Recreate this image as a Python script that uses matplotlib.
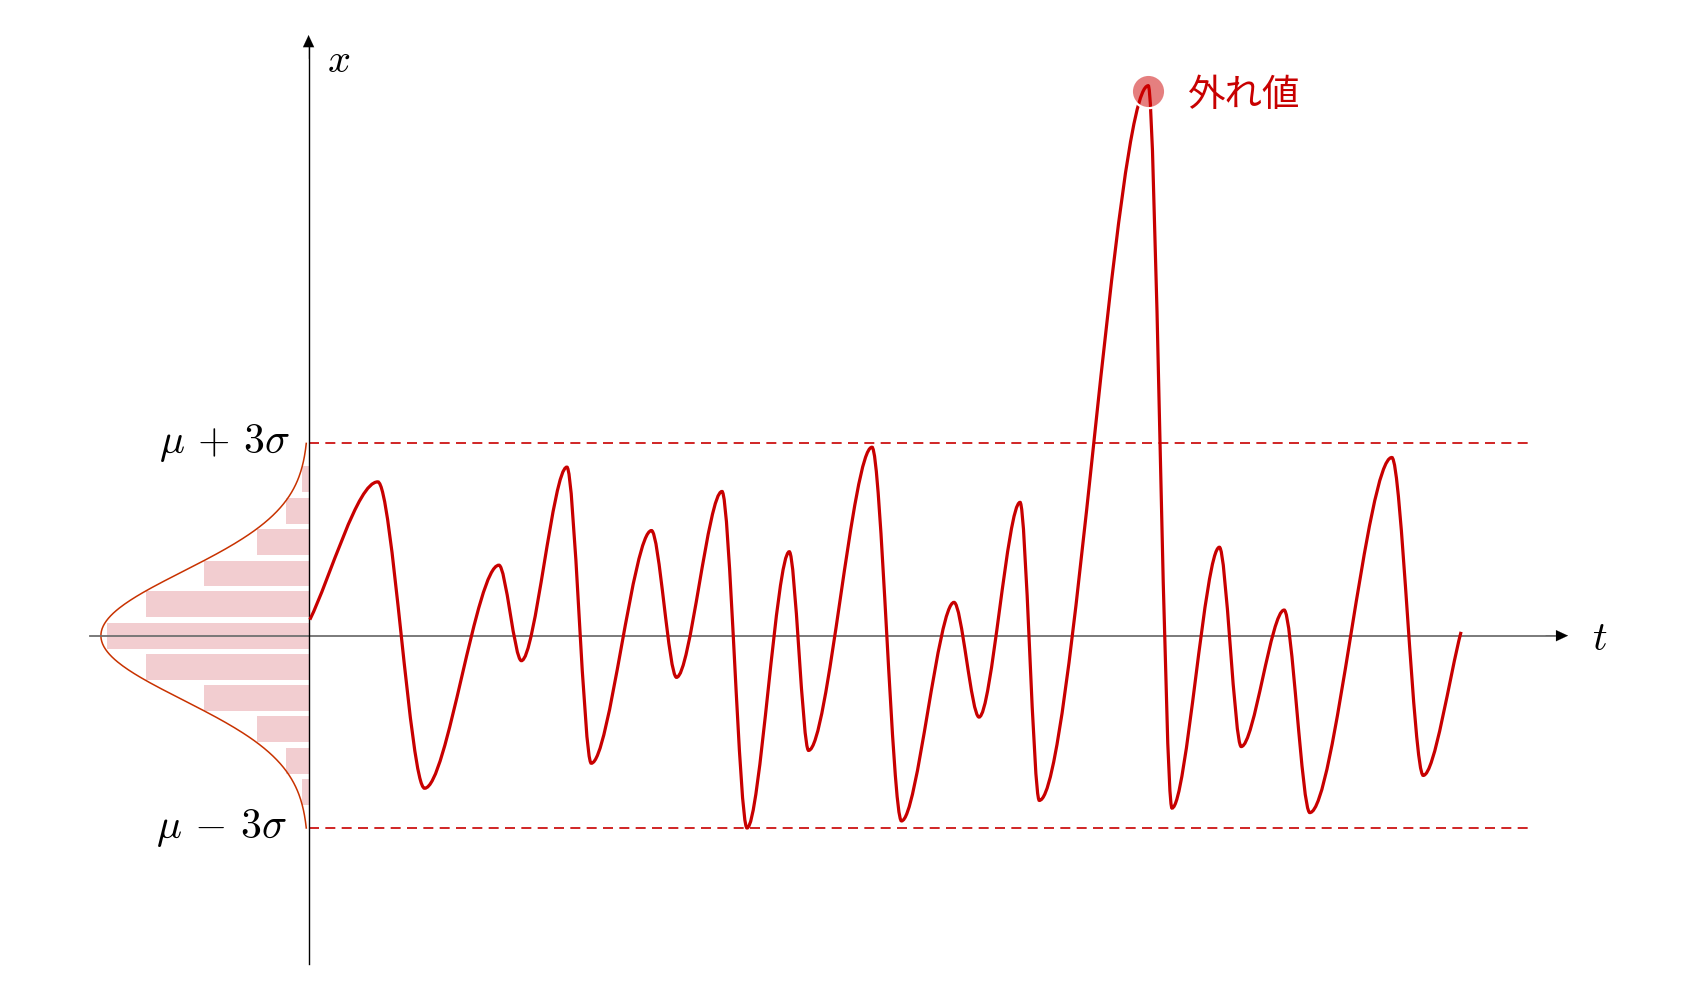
import numpy as np
import matplotlib.pyplot as plt
from matplotlib.path import Path
from matplotlib.patches import PathPatch

plt.rcParams['mathtext.fontset'] = 'cm'
plt.rcParams['font.family'] = ['Noto Sans CJK JP', 'DejaVu Sans']

# time series: turning points of the signal (t, x in units of sigma, mu = 0)
series_t = [0.02, 1.08, 1.81, 2.97, 3.32, 4.03, 4.41, 5.35, 5.74, 6.45, 6.84,
            7.50, 7.80, 8.79, 9.25, 10.07, 10.46, 11.10, 11.40, 13.10, 13.47,
            14.21, 14.55, 15.22, 15.62, 16.90, 17.39, 17.98]
series_x = [0.25, 2.40, -2.38, 1.10, -0.39, 2.63, -1.99, 1.64, -0.65, 2.25, -3.00,
            1.31, -1.79, 2.94, -2.89, 0.52, -1.27, 2.08, -2.57, 8.58, -2.69,
            1.38, -1.73, 0.40, -2.76, 2.78, -2.18, 0.06]

# outlier marker
outlier_t = 13.10
outlier_x = 8.49
outlier_label = '外れ値'

# histogram drawn sideways next to the x axis
hist_centers = [2.44, 1.95, 1.46, 0.97, 0.49, 0.0, -0.49, -0.97, -1.46, -1.95, -2.44]
hist_counts = [0.10, 0.35, 0.80, 1.63, 2.53, 3.14, 2.53, 1.63, 0.80, 0.35, 0.10]

# normal density overlay
mu = 0.0
sigma = 1.0
density_peak = 3.24

red = '#c80000'
pink = '#f2cdd0'

fig = plt.figure(figsize=(17.04, 9.81), dpi=100)
ax = fig.add_axes([0, 0, 1, 1])
ax.set_xlim(-4.814, 21.77)
ax.set_ylim(-5.387, 9.917)
ax.axis('off')

# histogram bars
widths = np.array(hist_counts)
ax.barh(hist_centers, widths, left=-widths, height=0.40, color=pink, zorder=1)

# gaussian curve
xs = np.linspace(mu - 3 * sigma, mu + 3 * sigma, 300)
ax.plot(-density_peak * np.exp(-0.5 * ((xs - mu) / sigma) ** 2), xs,
        color='#c83200', lw=1.1, zorder=2)

# +-3 sigma lines
for level in (mu + 3 * sigma, mu - 3 * sigma):
    ax.plot([0, 19.09], [level, level], color=red, lw=1.2,
            linestyle=(0, (6, 3.8)), zorder=2)
ax.text(-0.30, mu + 3 * sigma, r'$\mu\,+\,3\sigma$', fontsize=30, ha='right', va='center')
ax.text(-0.34, mu - 3 * sigma, r'$\mu\,-\,3\sigma$', fontsize=30, ha='right', va='center')

# axes with arrows
arrow = dict(arrowstyle='-|>,head_length=0.43,head_width=0.2', color='k',
             mutation_scale=20, shrinkA=0, shrinkB=0, lw=0.1)
ax.plot([-3.41, 19.45], [0, 0], color='#707070', lw=1.3, zorder=3)
ax.annotate('', xy=(19.65, 0), xytext=(19.3, 0), arrowprops=arrow, zorder=3)
ax.plot([0, 0], [-5.12, 9.2], color='k', lw=1.0, zorder=3)
ax.annotate('', xy=(0, 9.37), xytext=(0, 9.0), arrowprops=arrow, zorder=3)
ax.text(20.15, -0.22, r'$t$', fontsize=29, ha='center', va='baseline')
ax.text(0.47, 8.79, r'$x$', fontsize=29, ha='center', va='baseline')

# smooth signal: cubic segments with flat tangents at turning points
k = 0.3
pts = list(zip(series_t, series_x))
verts = [pts[0]]
codes = [Path.MOVETO]
for i in range(len(pts) - 1):
    (t0, x0), (t1, x1) = pts[i], pts[i + 1]
    dt = t1 - t0
    if i == 0:
        c1 = (t0 + k * dt, x0 + k * (x1 - x0))
    else:
        c1 = (t0 + k * dt, x0)
    if i == len(pts) - 2:
        c2 = (t1 - k * dt, x1 - k * (x1 - x0))
    else:
        c2 = (t1 - k * dt, x1)
    verts += [c1, c2, (t1, x1)]
    codes += [Path.CURVE4] * 3
ax.add_patch(PathPatch(Path(verts, codes), facecolor='none', edgecolor=red,
                       lw=2.3, capstyle='butt', zorder=4))

# outlier
ax.plot(outlier_t, outlier_x, 'o', markersize=24, markerfacecolor=(0.8, 0, 0, 0.5),
        markeredgecolor='white', markeredgewidth=1.6, zorder=5)
ax.text(13.72, outlier_x - 0.06, outlier_label, fontsize=27, color=red,
        ha='left', va='center', zorder=5)

fig.savefig('out.png', dpi=100)
